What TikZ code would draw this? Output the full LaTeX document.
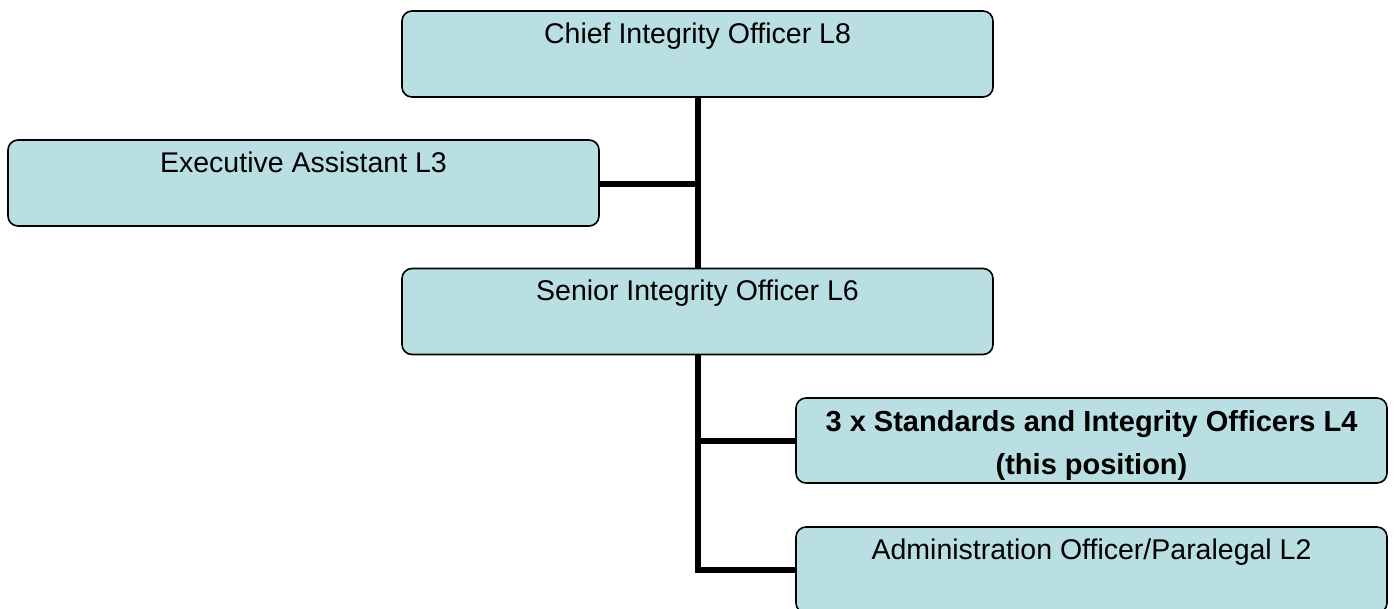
\documentclass[tikz,border=0pt]{standalone}
\usepackage{fontspec}
\setmainfont{Liberation Sans}
\definecolor{boxfill}{RGB}{185,223,227}
\begin{document}
\begin{tikzpicture}[x=1pt,y=-1pt,
  orgbox/.style={draw=black, line width=1.6pt, fill=boxfill, rounded corners=10pt,
    minimum width=591pt, inner xsep=0pt, inner ysep=0pt,
    text height=32pt, text depth=54pt, align=center,
    font=\fontsize{28.5}{43}\selectfont},
  link/.style={line width=6pt, line join=miter, line cap=butt}]
\useasboundingbox (0,0) rectangle (1394,608);
\fill[white] (0,0) rectangle (1394,608);

% reporting lines
\coordinate (top) at (698,97);
\coordinate (mid) at (698,354);
\draw[link] (top) -- (698,269);
\draw[link] (698,184) -- (599,184);
\draw[link] (mid) -- (698,570) -- (796,570);
\draw[link] (698,440.5) -- (796,440.5);

% positions
\node[orgbox] (chief) at (697.5,54) {Chief Integrity Officer L8};
\node[orgbox] (exec) at (303.5,183) {Executive Assistant L3};
\node[orgbox] (senior) at (697.5,311.5) {Senior Integrity Officer L6};
\node[orgbox, text height=76pt, text depth=9pt,
  font=\fontsize{29}{43}\selectfont\bfseries] (std) at (1091.5,440.5)
  {3 x Standards and Integrity Officers L4\\(this position)};
\node[orgbox] (admin) at (1091.5,570) {Administration Officer/Paralegal L2};
\end{tikzpicture}
\end{document}
